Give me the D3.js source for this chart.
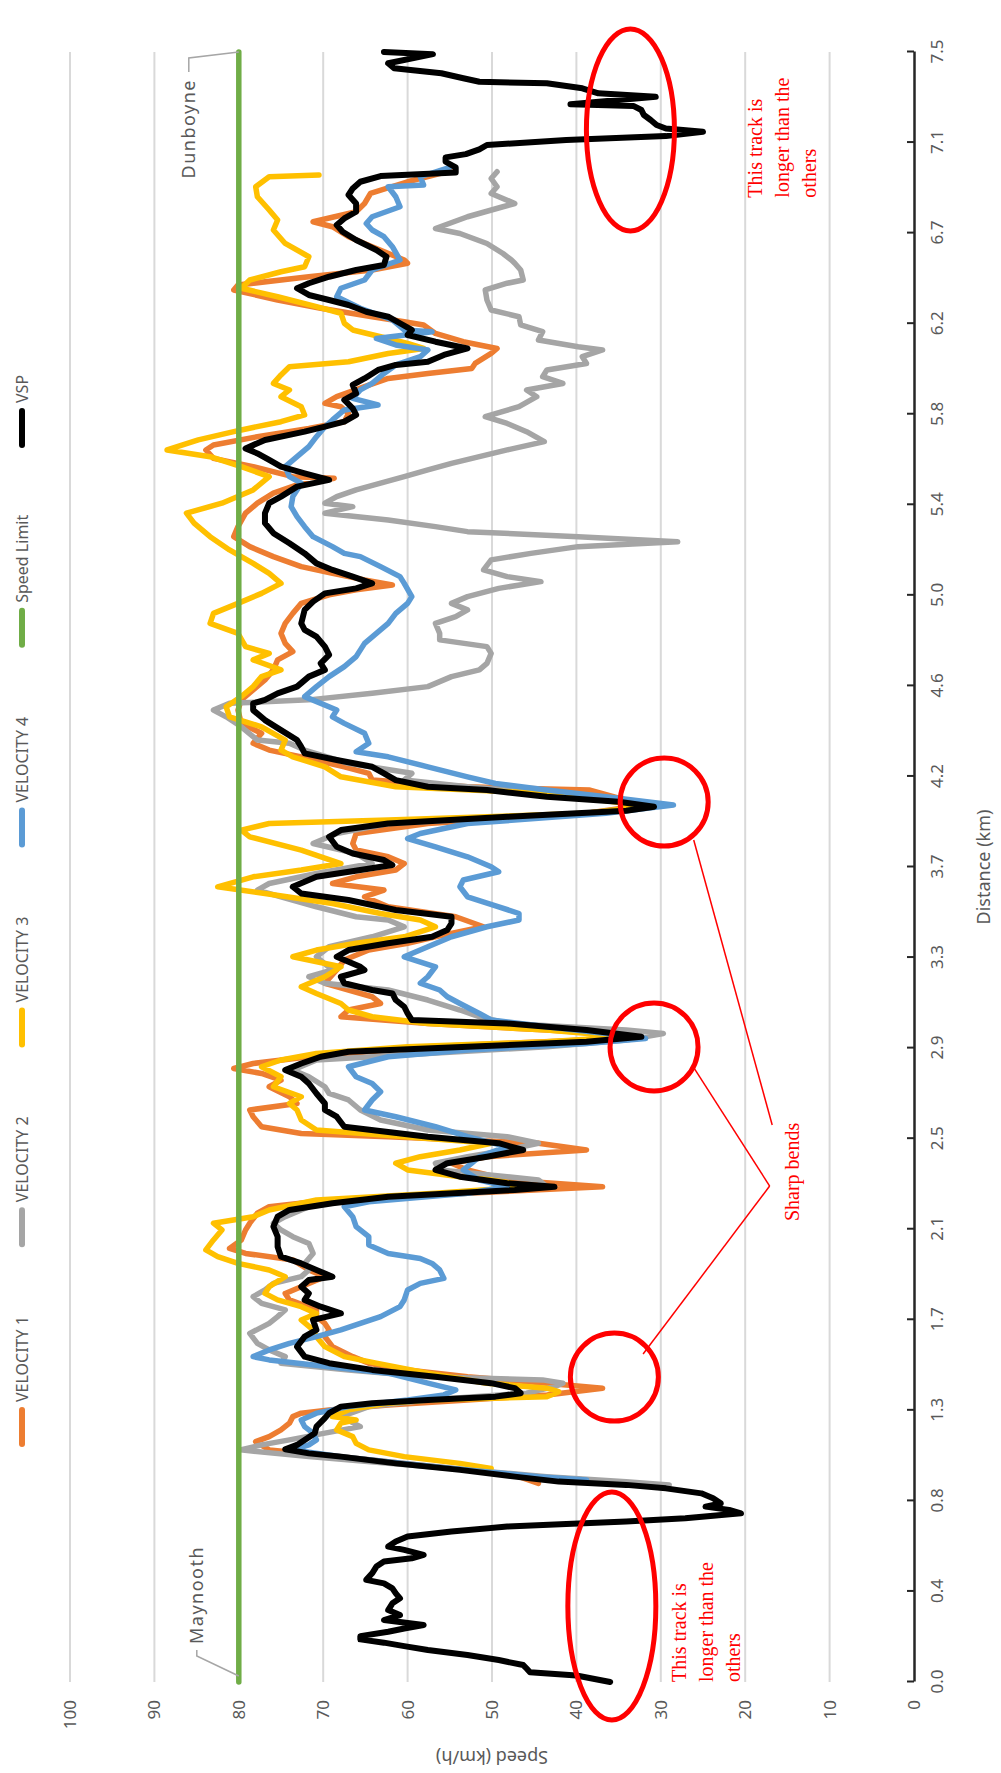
<!DOCTYPE html>
<html>
<head>
<meta charset="utf-8">
<script src="https://cdn.jsdelivr.net/npm/d3@7"></script>
<style>
  body { margin: 0; background: #fff; }
  svg { display: block; }
</style>
</head>
<body>
<svg id="chart" width="1001" height="1773"></svg>
<script>
// distance axis (km) labels, one every 1/18 of the track
const distLabels = ['0.0','0.4','0.8','1.3','1.7','2.1','2.5','2.9','3.3','3.7','4.2','4.6','5.0','5.4','5.8','6.2','6.7','7.1','7.5'];
const speedTicks = [0, 10, 20, 30, 40, 50, 60, 70, 80, 90, 100];

// [distance km, speed km/h]
const velocity1 = [[6.957,54.6],[6.903,60.0],[6.849,64.4],[6.803,65.1],[6.765,66.1],[6.719,71.2],[6.696,68.9],[6.650,67.0],[6.604,64.2],[6.543,60.4],[6.528,60.0],[6.497,64.2],[6.466,71.7],[6.428,80.1],[6.405,80.6],[6.359,75.4],[6.321,70.3],[6.282,64.2],[6.259,60.4],[6.244,58.1],[6.205,56.7],[6.167,53.4],[6.136,49.4],[6.113,50.1],[6.067,52.0],[6.044,52.4],[6.021,57.6],[5.998,62.3],[5.960,65.1],[5.914,68.4],[5.883,69.8],[5.868,67.9],[5.837,67.0],[5.799,67.5],[5.768,71.7],[5.730,77.8],[5.692,83.0],[5.669,83.9],[5.630,83.0],[5.592,78.3],[5.546,73.6],[5.539,68.7],[5.508,73.1],[5.470,75.9],[5.424,77.8],[5.378,79.2],[5.316,80.1],[5.270,80.6],[5.224,78.7],[5.178,75.9],[5.132,72.6],[5.101,68.9],[5.071,65.1],[5.048,61.8],[5.025,66.1],[5.002,69.3],[4.963,72.6],[4.917,73.6],[4.871,74.5],[4.825,75.0],[4.779,74.5],[4.741,73.6],[4.703,75.4],[4.657,75.9],[4.611,76.9],[4.565,78.3],[4.519,79.7],[4.472,80.1],[4.411,79.7],[4.365,77.3],[4.319,78.3],[4.288,76.4],[4.257,72.6],[4.211,67.5],[4.181,64.6],[4.150,64.2],[4.119,52.9],[4.104,38.4],[4.058,34.1],[4.035,31.8],[3.997,38.8],[3.950,57.6],[3.904,66.1],[3.858,66.5],[3.828,66.1],[3.797,62.3],[3.766,60.4],[3.736,61.4],[3.705,66.1],[3.674,68.9],[3.644,62.8],[3.613,65.1],[3.567,62.3],[3.521,54.3],[3.475,51.0],[3.429,56.7],[3.399,60.0],[3.368,64.6],[3.322,67.5],[3.276,68.4],[3.215,69.8],[3.153,64.2],[3.122,63.2],[3.092,67.0],[3.061,67.9],[3.030,57.6],[3.000,43.5],[2.977,34.1],[2.954,38.8],[2.923,57.6],[2.877,71.7],[2.846,78.3],[2.823,80.6],[2.800,77.3],[2.769,75.0],[2.739,76.4],[2.693,74.0],[2.662,73.1],[2.632,78.7],[2.601,78.3],[2.555,77.3],[2.524,72.6],[2.509,62.3],[2.479,44.5],[2.448,38.8],[2.417,50.6],[2.387,54.8],[2.356,52.9],[2.310,48.2],[2.279,36.9],[2.249,52.9],[2.218,69.3],[2.187,76.4],[2.157,77.8],[2.111,78.7],[2.080,79.2],[2.034,79.7],[1.995,81.1],[1.972,79.2],[1.942,73.6],[1.896,71.7],[1.865,69.8],[1.834,71.7],[1.788,74.5],[1.758,74.0],[1.712,70.8],[1.681,70.8],[1.650,69.8],[1.620,69.3],[1.589,69.8],[1.543,68.9],[1.497,66.5],[1.467,64.6],[1.436,60.0],[1.405,52.9],[1.375,43.5],[1.352,36.9],[1.321,43.5],[1.298,52.9],[1.275,62.3],[1.252,69.3],[1.237,72.6],[1.221,73.6],[1.191,74.0],[1.160,75.0],[1.129,76.4],[1.106,78.0],[1.068,76.4],[1.037,67.9],[1.006,60.4],[0.976,52.9],[0.945,46.8],[0.914,44.5]];

const velocity2 = [[6.949,49.4],[6.918,50.1],[6.880,49.4],[6.849,50.1],[6.803,47.3],[6.788,48.7],[6.742,52.9],[6.688,56.7],[6.665,53.8],[6.619,50.6],[6.573,48.7],[6.543,47.7],[6.528,47.3],[6.497,46.6],[6.451,46.3],[6.436,48.2],[6.405,50.8],[6.359,50.6],[6.313,50.1],[6.282,46.8],[6.244,46.6],[6.213,44.0],[6.175,44.5],[6.144,39.8],[6.129,36.9],[6.098,39.3],[6.067,38.8],[6.037,43.5],[6.006,44.0],[5.975,41.6],[5.945,45.9],[5.914,44.7],[5.868,46.8],[5.822,50.8],[5.791,48.2],[5.753,45.9],[5.707,43.8],[5.669,48.2],[5.638,51.5],[5.607,54.8],[5.577,57.6],[5.546,60.4],[5.516,63.2],[5.485,66.1],[5.454,68.4],[5.424,69.8],[5.408,66.5],[5.378,69.8],[5.347,62.3],[5.316,56.7],[5.293,52.9],[5.270,39.8],[5.247,28.0],[5.224,39.8],[5.193,45.4],[5.163,50.1],[5.117,51.0],[5.086,48.2],[5.063,44.2],[5.032,49.2],[4.994,52.9],[4.963,54.8],[4.933,52.9],[4.902,54.3],[4.871,56.7],[4.825,56.2],[4.795,56.2],[4.764,50.6],[4.733,50.1],[4.687,50.6],[4.657,51.5],[4.626,54.8],[4.580,57.6],[4.549,64.2],[4.519,71.7],[4.503,81.1],[4.472,83.0],[4.441,81.5],[4.395,79.7],[4.334,77.8],[4.319,74.0],[4.288,72.2],[4.227,67.0],[4.181,59.5],[4.150,60.4],[4.119,52.9],[4.089,43.5],[4.058,34.1],[4.030,31.3],[3.997,38.8],[3.950,62.3],[3.904,68.4],[3.858,71.2],[3.812,66.1],[3.766,64.2],[3.720,70.8],[3.674,76.4],[3.644,77.8],[3.613,75.0],[3.567,70.8],[3.521,66.1],[3.506,62.3],[3.475,60.4],[3.429,64.2],[3.383,69.3],[3.337,70.8],[3.276,68.9],[3.245,71.7],[3.215,69.8],[3.184,62.3],[3.138,57.6],[3.092,53.8],[3.061,51.5],[3.030,48.2],[3.000,34.1],[2.984,29.7],[2.954,34.1],[2.923,43.5],[2.892,57.6],[2.862,70.8],[2.816,73.6],[2.785,71.7],[2.739,69.8],[2.708,69.3],[2.678,67.0],[2.632,65.6],[2.586,63.2],[2.540,57.6],[2.509,48.2],[2.479,44.5],[2.448,48.2],[2.417,52.9],[2.387,56.7],[2.356,56.2],[2.325,48.2],[2.310,44.5],[2.279,43.5],[2.249,52.9],[2.218,68.4],[2.187,71.7],[2.141,74.5],[2.111,75.9],[2.080,75.0],[2.049,73.6],[2.018,71.7],[1.972,71.2],[1.926,72.2],[1.896,71.7],[1.865,72.6],[1.834,75.9],[1.804,76.9],[1.773,78.3],[1.742,77.3],[1.712,74.5],[1.681,75.4],[1.650,76.4],[1.604,78.7],[1.558,77.8],[1.528,76.4],[1.497,74.5],[1.467,75.0],[1.436,67.0],[1.405,57.6],[1.390,44.0],[1.375,41.6],[1.359,42.6],[1.329,45.9],[1.298,57.6],[1.267,64.6],[1.221,67.9],[1.175,65.6],[1.145,69.8],[1.114,74.0],[1.091,77.3],[1.068,79.8],[1.037,71.7],[1.006,62.3],[0.976,52.9],[0.945,43.5],[0.922,34.1],[0.907,29.0]];

const velocity3 = [[6.934,70.5],[6.926,76.4],[6.880,78.0],[6.834,77.8],[6.773,76.4],[6.727,75.4],[6.681,75.9],[6.619,74.5],[6.558,71.7],[6.512,72.2],[6.489,75.0],[6.451,78.7],[6.413,79.7],[6.374,75.4],[6.328,70.8],[6.298,67.9],[6.252,67.5],[6.221,66.5],[6.190,63.2],[6.159,60.0],[6.136,58.1],[6.113,62.3],[6.075,67.0],[6.052,74.0],[6.014,75.0],[5.975,75.9],[5.945,74.0],[5.914,75.0],[5.868,72.6],[5.830,72.2],[5.799,75.0],[5.761,79.7],[5.715,84.8],[5.669,88.5],[5.638,83.4],[5.592,79.7],[5.546,76.4],[5.485,78.3],[5.424,82.0],[5.378,86.2],[5.332,85.3],[5.270,83.4],[5.209,81.1],[5.147,78.3],[5.101,76.4],[5.055,75.0],[5.009,77.3],[4.963,80.1],[4.917,83.0],[4.871,83.4],[4.825,80.1],[4.764,79.2],[4.733,76.4],[4.703,78.3],[4.657,75.0],[4.626,77.3],[4.580,78.3],[4.534,79.7],[4.487,81.5],[4.441,81.1],[4.395,77.3],[4.334,74.5],[4.288,75.0],[4.257,73.6],[4.211,69.8],[4.165,67.9],[4.119,61.4],[4.089,43.5],[4.043,34.1],[4.027,32.3],[3.997,38.8],[3.966,62.3],[3.950,76.4],[3.920,79.7],[3.889,78.7],[3.828,72.6],[3.766,67.9],[3.736,72.6],[3.705,78.3],[3.659,82.5],[3.628,76.9],[3.582,68.9],[3.536,63.2],[3.506,58.5],[3.475,56.7],[3.429,60.4],[3.399,66.1],[3.368,70.8],[3.337,73.6],[3.291,67.9],[3.245,69.8],[3.199,72.6],[3.168,70.8],[3.122,67.9],[3.092,67.0],[3.061,64.2],[3.030,57.6],[3.000,43.5],[2.969,34.1],[2.946,43.5],[2.923,60.0],[2.892,70.8],[2.862,75.0],[2.831,77.3],[2.785,75.0],[2.739,75.9],[2.693,72.6],[2.662,74.0],[2.632,73.1],[2.586,72.6],[2.540,70.8],[2.479,50.1],[2.448,53.8],[2.417,58.5],[2.387,61.4],[2.356,60.0],[2.325,53.8],[2.310,50.1],[2.279,45.4],[2.249,56.7],[2.218,70.8],[2.172,76.4],[2.141,78.3],[2.111,83.0],[2.080,82.0],[2.034,83.0],[1.988,83.9],[1.957,82.5],[1.926,80.1],[1.896,76.4],[1.865,74.5],[1.819,76.4],[1.788,76.9],[1.758,75.4],[1.727,72.6],[1.696,70.8],[1.666,72.6],[1.620,71.2],[1.589,70.8],[1.543,69.8],[1.497,67.5],[1.467,63.7],[1.421,57.6],[1.375,50.6],[1.352,43.5],[1.336,42.1],[1.313,43.5],[1.298,57.6],[1.283,62.3],[1.252,67.0],[1.221,68.9],[1.206,66.1],[1.191,67.9],[1.160,68.4],[1.129,66.5],[1.098,66.1],[1.068,64.6],[1.037,60.4],[1.006,53.8],[0.983,50.1]];

const velocity4 = [[6.972,54.8],[6.926,58.5],[6.888,58.1],[6.880,62.3],[6.834,61.4],[6.788,60.9],[6.742,64.2],[6.711,64.9],[6.681,64.2],[6.650,62.8],[6.604,61.8],[6.543,60.9],[6.497,64.2],[6.451,65.1],[6.413,67.9],[6.374,68.4],[6.321,65.6],[6.267,61.8],[6.221,60.4],[6.213,57.1],[6.182,63.7],[6.152,61.4],[6.129,57.6],[6.098,58.5],[6.060,61.4],[6.021,62.8],[5.975,64.2],[5.945,65.6],[5.906,66.5],[5.876,63.5],[5.853,67.5],[5.807,68.9],[5.776,69.8],[5.730,70.8],[5.684,71.7],[5.638,73.1],[5.592,74.5],[5.546,74.0],[5.516,72.6],[5.454,73.6],[5.408,73.8],[5.362,73.1],[5.316,72.2],[5.270,71.2],[5.224,68.9],[5.193,67.5],[5.178,65.6],[5.132,63.2],[5.086,60.9],[5.055,60.4],[4.994,59.5],[4.963,60.0],[4.917,61.4],[4.871,62.3],[4.825,63.7],[4.779,65.1],[4.718,66.1],[4.672,67.5],[4.626,69.3],[4.580,70.8],[4.534,72.2],[4.472,68.4],[4.441,68.9],[4.411,67.5],[4.365,65.1],[4.319,64.6],[4.280,66.1],[4.257,62.3],[4.211,57.6],[4.165,52.9],[4.134,49.6],[4.104,43.5],[4.073,36.5],[4.035,28.5],[3.997,36.5],[3.950,52.9],[3.904,58.5],[3.881,60.0],[3.843,56.7],[3.797,52.9],[3.751,50.1],[3.728,49.2],[3.690,53.4],[3.659,53.8],[3.613,52.9],[3.567,49.2],[3.536,46.8],[3.506,46.8],[3.475,50.6],[3.429,54.8],[3.383,57.6],[3.337,60.4],[3.291,56.7],[3.245,57.6],[3.215,58.5],[3.184,56.2],[3.153,55.3],[3.122,53.8],[3.076,51.5],[3.046,50.1],[3.015,43.5],[2.984,36.5],[2.961,31.8],[2.938,38.8],[2.908,52.9],[2.877,62.3],[2.831,67.0],[2.785,66.1],[2.754,64.2],[2.716,63.2],[2.678,64.2],[2.632,65.1],[2.601,61.4],[2.555,56.7],[2.509,52.9],[2.463,48.2],[2.417,51.5],[2.387,52.4],[2.356,53.4],[2.310,51.5],[2.279,48.2],[2.249,52.9],[2.210,64.6],[2.187,67.5],[2.141,66.5],[2.095,66.1],[2.049,64.6],[2.011,64.6],[1.972,62.3],[1.949,58.5],[1.926,57.1],[1.896,56.2],[1.857,55.7],[1.834,58.5],[1.804,60.0],[1.758,60.4],[1.727,60.9],[1.681,63.2],[1.650,65.6],[1.620,67.9],[1.589,70.8],[1.558,74.0],[1.528,76.4],[1.497,78.3],[1.482,76.4],[1.451,69.3],[1.421,62.3],[1.375,57.6],[1.344,54.3],[1.321,55.7],[1.298,60.0],[1.267,67.0],[1.237,70.8],[1.206,72.6],[1.175,72.2],[1.145,71.2],[1.114,70.8],[1.091,71.7],[1.068,73.6],[1.037,67.9],[1.006,60.4],[0.976,52.9],[0.945,44.5],[0.930,38.8]];

const speedLimit = [[0, 80], [7.5, 80]];

const vsp = [[7.50,62.8],[7.49,57.0],[7.448,62.3],[7.425,61.6],[7.402,56.0],[7.379,53.4],[7.363,51.5],[7.356,43.5],[7.333,39.3],[7.310,37.4],[7.294,30.6],[7.260,40.7],[7.251,33.2],[7.233,32.3],[7.210,32.0],[7.187,31.2],[7.164,30.5],[7.148,29.4],[7.133,25.0],[7.113,29.4],[7.095,41.2],[7.072,50.6],[7.052,51.5],[7.030,53.1],[7.015,55.5],[6.995,55.5],[6.969,54.3],[6.945,54.3],[6.929,63.2],[6.903,65.6],[6.872,66.5],[6.842,67.0],[6.803,66.1],[6.765,66.1],[6.734,67.5],[6.704,68.4],[6.673,67.7],[6.635,66.1],[6.589,63.7],[6.558,62.5],[6.520,62.8],[6.497,66.1],[6.466,69.3],[6.436,71.7],[6.413,73.1],[6.382,71.7],[6.359,69.3],[6.336,67.0],[6.305,64.9],[6.282,62.3],[6.252,60.9],[6.221,59.5],[6.198,60.0],[6.167,56.7],[6.136,52.9],[6.106,55.7],[6.075,57.6],[6.060,61.4],[6.037,63.5],[5.998,65.1],[5.968,66.5],[5.929,66.1],[5.899,67.5],[5.860,66.5],[5.830,66.1],[5.799,67.5],[5.776,69.8],[5.753,72.2],[5.715,76.9],[5.676,79.2],[5.653,77.8],[5.623,76.4],[5.592,75.0],[5.561,72.2],[5.531,69.3],[5.500,73.1],[5.454,75.0],[5.424,76.4],[5.378,76.9],[5.332,76.9],[5.286,75.9],[5.240,74.0],[5.193,72.2],[5.147,70.8],[5.117,68.9],[5.086,66.5],[5.055,64.2],[5.032,66.1],[5.009,69.8],[4.971,71.2],[4.933,72.2],[4.871,72.6],[4.841,72.2],[4.810,70.8],[4.764,69.8],[4.726,69.3],[4.687,70.3],[4.657,69.8],[4.626,71.7],[4.580,73.1],[4.549,75.4],[4.519,76.9],[4.503,78.3],[4.472,78.3],[4.426,76.9],[4.380,75.0],[4.334,73.1],[4.303,72.6],[4.273,72.2],[4.242,68.4],[4.211,64.2],[4.181,62.8],[4.150,61.4],[4.119,57.6],[4.104,50.6],[4.073,43.5],[4.050,35.0],[4.027,30.8],[4.009,34.1],[3.981,48.2],[3.950,62.3],[3.920,67.9],[3.889,69.3],[3.843,68.4],[3.812,66.5],[3.782,62.8],[3.759,61.8],[3.736,65.6],[3.705,70.8],[3.659,73.6],[3.628,72.6],[3.598,67.0],[3.552,61.4],[3.521,54.8],[3.491,54.8],[3.460,55.3],[3.429,57.1],[3.399,62.3],[3.368,67.0],[3.337,68.4],[3.291,65.6],[3.276,65.1],[3.245,67.9],[3.215,67.5],[3.184,64.2],[3.168,61.8],[3.138,61.4],[3.107,60.4],[3.076,60.0],[3.046,59.5],[3.030,48.2],[3.000,38.8],[2.969,32.3],[2.946,38.8],[2.923,52.9],[2.900,67.0],[2.877,70.3],[2.846,72.6],[2.816,74.5],[2.785,72.6],[2.754,71.7],[2.708,70.8],[2.662,69.8],[2.632,69.8],[2.601,68.4],[2.555,67.5],[2.509,57.6],[2.479,49.2],[2.448,46.3],[2.417,50.6],[2.387,55.3],[2.356,56.7],[2.325,53.8],[2.295,48.2],[2.279,42.6],[2.264,47.3],[2.233,62.3],[2.203,68.9],[2.172,74.0],[2.141,75.4],[2.095,75.9],[2.049,75.4],[2.003,75.4],[1.957,75.0],[1.926,72.6],[1.896,70.8],[1.865,68.9],[1.850,71.7],[1.819,72.6],[1.788,71.7],[1.758,72.2],[1.727,70.3],[1.696,67.9],[1.666,71.2],[1.620,70.8],[1.589,72.2],[1.543,73.1],[1.497,72.2],[1.467,69.3],[1.436,64.2],[1.405,56.7],[1.375,50.1],[1.352,47.3],[1.329,46.6],[1.313,49.6],[1.298,57.6],[1.283,64.2],[1.267,67.9],[1.237,69.3],[1.214,69.8],[1.175,70.8],[1.145,71.0],[1.114,72.2],[1.091,73.1],[1.071,74.5],[1.052,71.7],[1.037,67.9],[1.006,61.4],[0.976,53.8],[0.945,47.3],[0.922,42.1],[0.907,34.1],[0.891,29.4],[0.868,25.2],[0.845,23.8],[0.822,22.9],[0.807,24.7],[0.792,21.9],[0.776,20.5],[0.753,27.1],[0.738,34.1],[0.727,41.2],[0.715,48.2],[0.692,54.8],[0.669,60.0],[0.646,61.4],[0.623,62.3],[0.608,60.4],[0.585,58.1],[0.569,59.5],[0.554,62.8],[0.531,63.7],[0.500,64.2],[0.470,64.9],[0.454,62.8],[0.431,61.8],[0.408,61.4],[0.385,60.9],[0.362,61.8],[0.331,62.3],[0.308,60.9],[0.285,62.8],[0.262,58.1],[0.246,60.4],[0.231,62.3],[0.211,65.6],[0.196,65.6],[0.181,62.8],[0.165,60.4],[0.147,57.6],[0.124,52.9],[0.101,49.2],[0.078,46.3],[0.062,45.9],[0.045,45.5],[0.030,40.0],[0.0,36.0]];

const seriesNames = ['VELOCITY 1', 'VELOCITY 2', 'VELOCITY 3', 'VELOCITY 4', 'Speed Limit', 'VSP'];
const seriesValues = [velocity1, velocity2, velocity3, velocity4, speedLimit, vsp];
const seriesColors = ['#ed7d31', '#a5a5a5', '#ffc000', '#5b9bd5', '#70ad47', '#000000'];

// sharp bends: [km, km/h] of the circled spots
const bends = [[4.049, 29.6], [2.922, 30.8], [1.403, 35.5]];

// The page shows the chart turned a quarter turn anticlockwise,
// so the chart is drawn 1773 wide x 1001 high and then rotated.
const svg = d3.select('#chart'),
      W = +svg.attr('height'),
      H = +svg.attr('width');

const g = svg.append('g')
    .attr('transform', `translate(0,${W}) rotate(-90)`);

const x = d3.scaleLinear().domain([0, 7.5]).range([91, 1721]);
const y = d3.scaleLinear().domain([0, 100]).range([914, 70]);

const font = '"Noto Sans", "Open Sans", sans-serif';
const grey = '#595959';

// gridlines
g.append('g').selectAll('line')
  .data(speedTicks.filter(d => d > 0))
  .join('line')
    .attr('x1', x(0)).attr('x2', x(7.5))
    .attr('y1', d => y(d)).attr('y2', d => y(d))
    .attr('stroke', '#d9d9d9')
    .attr('stroke-width', 2);

// distance axis
const distTicks = distLabels.map((_, i) => i * 7.5 / (distLabels.length - 1));
const xAxis = g.append('g')
    .attr('transform', `translate(0,${y(0)})`)
    .call(d3.axisBottom(x)
      .tickValues(distTicks)
      .tickFormat((d, i) => distLabels[i])
      .tickSizeInner(-7)
      .tickSizeOuter(0)
      .tickPadding(17));
xAxis.select('.domain').attr('stroke', '#262626').attr('stroke-width', 2.5);
xAxis.selectAll('.tick line').attr('stroke', '#262626').attr('stroke-width', 2);
xAxis.selectAll('text')
  .attr('fill', grey)
  .style('font-family', font)
  .style('font-size', '17px');

// speed axis (labels only)
const yAxis = g.append('g')
    .attr('transform', `translate(${x(0)},0)`)
    .call(d3.axisLeft(y).tickValues(speedTicks).tickSize(0).tickPadding(18));
yAxis.select('.domain').remove();
yAxis.selectAll('text')
  .attr('fill', grey)
  .style('font-family', font)
  .style('font-size', '17px');

// axis titles
g.append('text')
  .attr('x', (x(0) + x(7.5)) / 2)
  .attr('y', 990)
  .attr('text-anchor', 'middle')
  .attr('fill', grey)
  .style('font-family', font)
  .style('font-size', '18px')
  .text('Distance (km)');

g.append('text')
  .attr('transform', `translate(22,${(y(0) + y(100)) / 2}) rotate(-90)`)
  .attr('text-anchor', 'middle')
  .attr('fill', grey)
  .style('font-family', font)
  .style('font-size', '18px')
  .text('Speed (km/h)');

// series
const line = d3.line()
    .x(d => x(d[0]))
    .y(d => y(d[1]));

seriesValues.forEach((vals, i) => {
  g.append('path')
    .datum(vals.slice().sort((a, b) => a[0] - b[0]))
    .attr('fill', 'none')
    .attr('stroke', seriesColors[i])
    .attr('stroke-width', i === 5 ? 6 : 5.5)
    .attr('stroke-linejoin', 'round')
    .attr('stroke-linecap', 'round')
    .attr('d', line);
});

// legend
const legendX = d3.scalePoint().domain(seriesNames).range([346, 1345]);
const legend = g.append('g').selectAll('g')
  .data(seriesNames)
  .join('g')
    .attr('transform', d => `translate(${legendX(d)},22)`);
legend.append('line')
  .attr('x1', -17).attr('x2', 17)
  .attr('stroke', (d, i) => seriesColors[i])
  .attr('stroke-width', 6)
  .attr('stroke-linecap', 'round');
legend.append('text')
  .attr('x', 25)
  .attr('dy', '0.35em')
  .attr('fill', grey)
  .style('font-family', font)
  .style('font-size', '16px')
  .text(d => d);

// data labels on the speed limit line
const leader = d3.line();
g.append('path')
  .attr('d', leader([[x(0) + 6, y(80)], [x(0) + 26, y(80) - 42], [x(0) + 32, y(80) - 42]]))
  .attr('fill', 'none').attr('stroke', '#a6a6a6').attr('stroke-width', 1.5);
g.append('text')
  .attr('x', x(0) + 38).attr('y', y(80) - 42).attr('dy', '0.35em')
  .attr('fill', grey)
  .style('font-family', font).style('font-size', '18px').style('letter-spacing', '1.5px')
  .text('Maynooth');

g.append('path')
  .attr('d', leader([[x(7.5), y(80)], [x(7.5) - 6, y(80) - 50], [x(7.5) - 20, y(80) - 50]]))
  .attr('fill', 'none').attr('stroke', '#a6a6a6').attr('stroke-width', 1.5);
g.append('text')
  .attr('x', x(7.5) - 27).attr('y', y(80) - 50).attr('dy', '0.35em')
  .attr('text-anchor', 'end')
  .attr('fill', grey)
  .style('font-family', font).style('font-size', '18px').style('letter-spacing', '1.5px')
  .text('Dunboyne');

// red annotations
const red = '#ff0000';
const serif = '"Liberation Serif", "DejaVu Serif", serif';

g.append('g').selectAll('circle')
  .data(bends)
  .join('circle')
    .attr('cx', d => x(d[0]))
    .attr('cy', d => y(d[1]))
    .attr('r', 44)
    .attr('fill', 'none')
    .attr('stroke', red)
    .attr('stroke-width', 5);

// ellipses round the extra track at each end
[[0.35, 35.8, 114], [7.141, 33.6, 101]].forEach(e => {
  g.append('ellipse')
    .attr('cx', x(e[0])).attr('cy', y(e[1]))
    .attr('rx', e[2]).attr('ry', 44)
    .attr('fill', 'none')
    .attr('stroke', red)
    .attr('stroke-width', 5);
});

// pointer lines to "Sharp bends"
[[[3.874, 26.1], [2.563, 16.8]],
 [[2.821, 26.0], [2.282, 17.1]],
 [[1.509, 32.1], [2.282, 17.1]]].forEach(p => {
  g.append('line')
    .attr('x1', x(p[0][0])).attr('y1', y(p[0][1]))
    .attr('x2', x(p[1][0])).attr('y2', y(p[1][1]))
    .attr('stroke', red)
    .attr('stroke-width', 1.5);
});

g.append('text')
  .attr('x', x(2.347)).attr('y', y(14.5)).attr('dy', '0.35em')
  .attr('text-anchor', 'middle')
  .attr('fill', red)
  .style('font-family', serif).style('font-size', '20px')
  .text('Sharp bends');

const noteLines = ['This track is', 'longer than the', 'others'];
[[6.83, 18.0], [0.0, 27.0]].forEach(n => {
  g.append('text')
    .attr('fill', red)
    .style('font-family', serif).style('font-size', '20px')
    .selectAll('tspan')
    .data(noteLines)
    .join('tspan')
      .attr('x', x(n[0]))
      .attr('y', (d, i) => y(n[1]) + i * 27)
      .text(d => d);
});
</script>
</body>
</html>
